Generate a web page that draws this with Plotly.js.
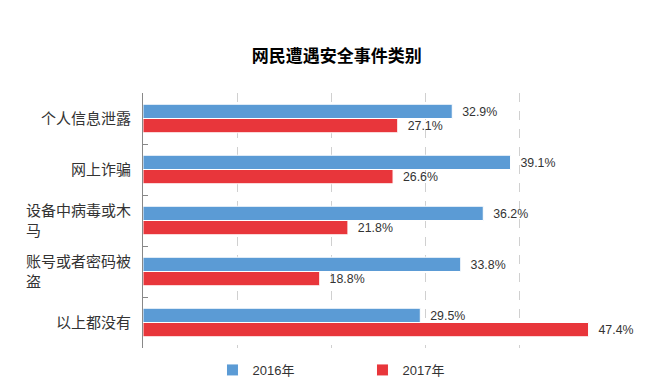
<!DOCTYPE html>
<html>
<head>
<meta charset="utf-8">
<script src="https://cdn.plot.ly/plotly-3.0.1.min.js"></script>
<style>html,body{margin:0;padding:0;background:#fff}#chart{width:664px;height:390px}</style>
</head>
<body>
<div id="chart"></div>
<script>
var categories = ["个人信息泄露", "网上诈骗", "设备中病毒或木<br>马", "账号或者密码被<br>盗", "以上都没有"];
var series2016 = [32.9, 39.1, 36.2, 33.8, 29.5];
var series2017 = [27.1, 26.6, 21.8, 18.8, 47.4];
var seriesNames = ["2016年", "2017年"];
var titleText = "网民遭遇安全事件类别";

var FONT = "Liberation Sans, Arial, Noto Sans CJK SC, sans-serif";
var NB = "\u00a0\u00a0";

var traces = [
  {type: "bar", orientation: "h", name: seriesNames[0], y: categories, x: series2016,
   marker: {color: "#5B9BD5", line: {color: "#ffffff", width: 1}},
   text: series2016.map(function(v){return NB + v.toFixed(1) + "%";}),
   textposition: "outside", cliponaxis: false, textfont: {size: 13, color: "#333333", family: FONT},
   hoverinfo: "skip"},
  {type: "bar", orientation: "h", name: seriesNames[1], y: categories, x: series2017,
   marker: {color: "#E8363B", line: {color: "#ffffff", width: 1}},
   text: series2017.map(function(v){return NB + v.toFixed(1) + "%";}),
   textposition: "outside", cliponaxis: false, textfont: {size: 13, color: "#333333", family: FONT},
   hoverinfo: "skip"}
];

var annotations = categories.map(function(c){
  return {xref: "paper", yref: "y", x: 0, y: c, xanchor: "right", yanchor: "middle",
          xshift: -10, text: c, align: "left", showarrow: false,
          font: {size: 15, color: "#333333", family: FONT}};
});

var layout = {
  width: 664, height: 390,
  paper_bgcolor: "#ffffff", plot_bgcolor: "rgba(0,0,0,0)",
  margin: {l: 143, r: 51, t: 93, b: 42},
  barmode: "group", bargap: 0.44, bargroupgap: 0,
  title: {text: "<b>" + titleText + "</b>", x: 0.507, xanchor: "center",
          yref: "container", y: 1 - 56/390, yanchor: "middle",
          font: {size: 17, color: "#000000", family: "Noto Sans CJK SC, sans-serif"}},
  xaxis: {range: [0, 50], dtick: 10, showticklabels: false, showgrid: true,
          gridcolor: "#d0d0d0", griddash: "dash", gridwidth: 1, zeroline: false, showline: false, fixedrange: true},
  yaxis: {autorange: "reversed", showticklabels: false, showline: true, linecolor: "#888888", linewidth: 1,
          ticks: "inside", tickson: "boundaries", ticklen: 5, tickcolor: "#888888", showgrid: false, fixedrange: true},
  showlegend: true,
  legend: {orientation: "h", xref: "container", yref: "container", x: 0.32, y: 1 - 370/390,
           xanchor: "left", yanchor: "middle", entrywidth: 105, entrywidthmode: "pixels",
           font: {size: 13, color: "#333333", family: FONT}, traceorder: "normal"},
  annotations: annotations
};

Plotly.newPlot("chart", traces, layout, {displayModeBar: false, staticPlot: true});
</script>
</body>
</html>
